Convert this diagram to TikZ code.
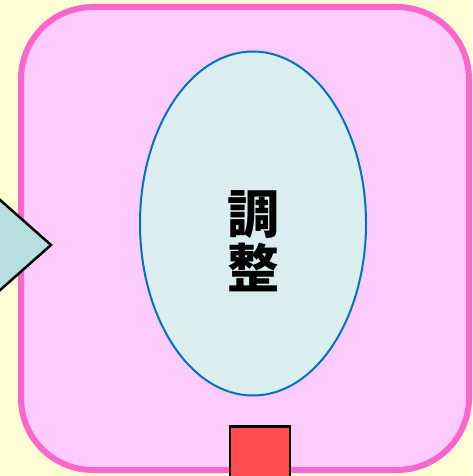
\documentclass[tikz,border=0pt]{standalone}
\usepackage{fontspec}
\newfontfamily\cjk{Noto Sans CJK JP}
\usetikzlibrary{shapes,positioning}
\definecolor{bgyellow}{RGB}{255,255,213}
\definecolor{cellpink}{RGB}{255,204,255}
\definecolor{cellborder}{RGB}{255,102,204}
\definecolor{taskfill}{RGB}{218,238,240}
\definecolor{taskborder}{RGB}{0,112,192}
\definecolor{inputfill}{RGB}{183,222,224}
\definecolor{portred}{RGB}{255,77,77}
\tikzstyle{cell} = [rectangle, draw=cellborder, fill=cellpink, line width=6pt, rounded corners=72pt, minimum width=448pt, minimum height=463pt]
\tikzstyle{task} = [ellipse, draw=taskborder, fill=taskfill, line width=2pt, minimum width=226pt, minimum height=344pt]
\tikzstyle{caption} = [font=\cjk\bfseries\fontsize{52}{54}\selectfont, align=center, inner sep=0pt]
\tikzstyle{port} = [rectangle, draw, fill=portred, line width=2.5pt, minimum size=60pt]
\tikzstyle{input} = [draw, fill=inputfill, line width=2.5pt]

\begin{document}
\begin{tikzpicture}[x=1pt, y=-1pt]
						% Canvas
						\fill [bgyellow] (0,0) rectangle (472,476);
						\useasboundingbox (0,0) rectangle (472,476);
						
						% Place nodes
						\node [cell] (cell) at (245,238.5) {};
						\node [task] (adjust) at (253,223.5) {};
						\node [caption] (adjusttext) at ([yshift=-18pt]adjust.center) {調\\整};
						\node [port] (output) at (260,456.5) {};
						
						% Input arrow on the left
						\coordinate (tip) at (51,245);
						\filldraw [input] (-60,199) -- (-1,199) -- (tip) -- (-1,291) -- (-60,291) -- cycle;
						
						
					\end{tikzpicture}
\end{document}
